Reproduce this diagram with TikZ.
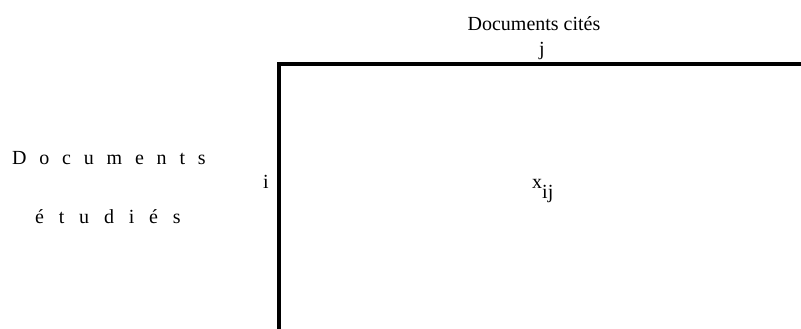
\documentclass[tikz,border=0pt]{standalone}
\usepackage{fontspec}
\setmainfont{Liberation Serif}
\newfontfamily\spacedA[LetterSpace=64]{Liberation Serif}
\newfontfamily\spacedB[LetterSpace=74]{Liberation Serif}
\begin{document}
\begin{tikzpicture}[x=1pt,y=-1pt,
  lbl/.style={inner sep=0pt,font=\fontsize{20}{24}\selectfont},
  axis/.style={line width=4pt,line join=miter}]
\useasboundingbox (0,0) rectangle (801,329);
\coordinate (corner) at (279,64);
\coordinate (bottom) at (279,331);
\coordinate (right) at (803,64);
\draw[axis] (bottom) -- (corner) -- (right);
\node[lbl,anchor=base] (cites) at (534,31) {Documents cités};
\node[lbl,anchor=base] (j) at (542,56) {j};
\node[lbl,anchor=base] (i) at (266,188) {i};
\node[lbl,anchor=base west] (x) at (532,188) {x\raisebox{-10pt}{ij}};
\node[inner sep=0pt,anchor=base west,font=\fontsize{20}{24}\spacedA] (doc) at (12,164) {Documents};
\node[inner sep=0pt,anchor=base west,font=\fontsize{20}{24}\spacedB] (etu) at (35,223) {étudiés};
\end{tikzpicture}
\end{document}
